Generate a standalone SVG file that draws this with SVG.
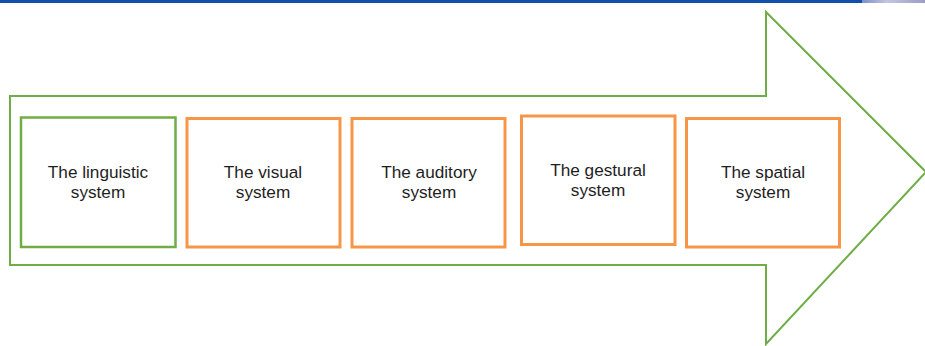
<svg xmlns="http://www.w3.org/2000/svg" width="925" height="346" viewBox="0 0 925 346">
<defs>
<linearGradient id="tg" x1="0" y1="0" x2="1" y2="0">
<stop offset="0" stop-color="#7d8fc8"/>
<stop offset="0.4" stop-color="#c4c4e0"/>
<stop offset="1" stop-color="#9c9cc8"/>
</linearGradient>
</defs>
<style>
.g{fill:none;stroke:#70ad47;stroke-width:2}
.o{fill:#fff;stroke:#f79646;stroke-width:3}
.gb{fill:#fff;stroke:#70ad47;stroke-width:2.5}
text{font-family:"Liberation Sans",Arial,sans-serif;font-size:17.2px;fill:#1e1e1e;text-anchor:middle}
</style>
<rect x="0" y="0" width="925" height="3" fill="#0f4fa8"/>
<rect x="862" y="0" width="63" height="3" fill="url(#tg)"/>
<g id="arrow">
<path class="g" d="M10,96 H766 V12 L926,172 L766,344 V265 H10 Z"/>
</g>
<g id="connectors"></g>
<g id="n1"><rect class="gb" x="21" y="117.5" width="154.5" height="129.5"/><text x="98" y="178">The linguistic</text><text x="98" y="198">system</text></g>
<g id="n2"><rect class="o" x="187" y="118.5" width="153" height="128.5"/><text x="263" y="178">The visual</text><text x="263" y="198">system</text></g>
<g id="n3"><rect class="o" x="352" y="118.5" width="153" height="128.5"/><text x="429" y="178">The auditory</text><text x="429" y="198">system</text></g>
<g id="n4"><rect class="o" x="521.5" y="116" width="153.5" height="128.5"/><text x="598" y="176">The gestural</text><text x="598" y="196">system</text></g>
<g id="n5"><rect class="o" x="686.5" y="118.5" width="153" height="128.5"/><text x="763" y="178">The spatial</text><text x="763" y="198">system</text></g>
</svg>
